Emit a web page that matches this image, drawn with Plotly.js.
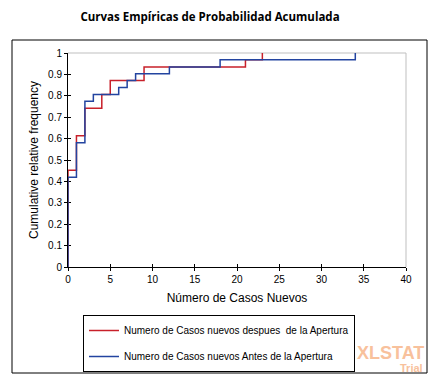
<!DOCTYPE html>
<html>
<head>
<meta charset="utf-8">
<script src="https://cdn.plot.ly/plotly-3.0.1.min.js"></script>
<style>html,body{margin:0;padding:0;background:#fff;}</style>
</head>
<body>
<div id="chart" style="width:435px;height:380px;"></div>
<script>
// Empirical cumulative distribution, "despues de la Apertura"
const despuesX = [0, 0, 1, 2, 4, 5, 9, 21, 23];
const despuesY = [0, 0.452, 0.613, 0.742, 0.806, 0.871, 0.935, 0.968, 1];
// Empirical cumulative distribution, "Antes de la Apertura"
const antesX = [0, 0, 1, 2, 3, 6, 7, 8, 12, 18, 34];
const antesY = [0, 0.419, 0.581, 0.774, 0.806, 0.839, 0.871, 0.903, 0.935, 0.968, 1];

const seriesNames = [
  'Numero de Casos nuevos despues  de la Apertura',
  'Numero de Casos nuevos Antes de la Apertura'
];
const chartTitle = 'Curvas Empíricas de Probabilidad Acumulada';
const xTitle = 'Número de Casos Nuevos';
const yTitle = 'Cumulative relative frequency';

const FONT = 'Liberation Sans, Arial, sans-serif';

const traces = [
  {x: despuesX, y: despuesY, type: 'scatter', mode: 'lines', line: {shape: 'hv', color: '#c8202a', width: 1.5},
   name: seriesNames[0], legendgroup: 'a'},
  {x: antesX, y: antesY, type: 'scatter', mode: 'lines', line: {shape: 'hv', color: '#2344a0', width: 1.5},
   name: seriesNames[1], legendgroup: 'b'},
  {x: [], y: [], xaxis: 'x2', yaxis: 'y2', type: 'scatter', mode: 'lines', showlegend: false, hoverinfo: 'skip'}
];

const L = 68, R = 406, T = 53, B = 267;
const W = R - L, H = B - T;
const px = v => (v - L) / W;
const py = v => (B - v) / H;

const layout = {
  width: 435, height: 380,
  margin: {l: L, r: 435 - R, t: T, b: 380 - B, pad: 0, autoexpand: false},
  paper_bgcolor: '#ffffff', plot_bgcolor: '#ffffff',
  font: {family: FONT, size: 10, color: '#000'},
  showlegend: true,
  title: {text: '<b>' + chartTitle + '</b>', font: {family: 'Open Sans, sans-serif', size: 11.5, color: '#000'},
          x: 210 / 435, xref: 'container', xanchor: 'center', y: 1 - 17/380, yanchor: 'middle'},
  xaxis: {range: [0, 40], dtick: 5, tick0: 0, ticks: 'outside', ticklen: 3, tickcolor: '#000', tickwidth: 1,
          showline: true, linecolor: '#000', linewidth: 1, showgrid: false, zeroline: false, layer: 'below traces',
          automargin: false,
          tickfont: {family: FONT, size: 10, color: '#000'},
          title: {text: xTitle, font: {family: FONT, size: 12, color: '#000'}, standoff: 9}},
  yaxis: {range: [0, 1], dtick: 0.1, tick0: 0, ticks: 'outside', ticklen: 3, tickcolor: '#000', tickwidth: 1,
          showline: true, linecolor: '#000', linewidth: 1, showgrid: false, zeroline: false, layer: 'below traces',
          automargin: false,
          tickfont: {family: FONT, size: 10, color: '#000'},
          title: {text: yTitle, font: {family: FONT, size: 12, color: '#000'}, standoff: 6}},
  xaxis2: {overlaying: 'x', range: [0, 40], dtick: 5, tick0: 0, ticks: 'inside', ticklen: 3, tickcolor: '#000',
           showticklabels: false, showline: false, showgrid: false, zeroline: false, layer: 'below traces'},
  yaxis2: {overlaying: 'y', range: [0, 1], dtick: 0.1, tick0: 0, ticks: 'inside', ticklen: 3, tickcolor: '#000',
           showticklabels: false, showline: false, showgrid: false, zeroline: false, layer: 'below traces'},
  legend: {x: px(83), y: py(315), xanchor: 'left', yanchor: 'top', bgcolor: '#fff',
           bordercolor: '#000', borderwidth: 1, traceorder: 'grouped', tracegroupgap: 7,
           font: {family: FONT, size: 10, color: '#000'}},
  shapes: [
    {type: 'rect', xref: 'paper', yref: 'paper', x0: px(12), x1: px(427), y0: py(373), y1: py(40),
     line: {color: '#000', width: 1}, fillcolor: 'rgba(0,0,0,0)', layer: 'below'},
    {type: 'line', xref: 'paper', yref: 'paper', x0: 0, x1: 1, y0: 1, y1: 1, line: {color: '#bfbfbf', width: 1}, layer: 'below'},
    {type: 'line', xref: 'paper', yref: 'paper', x0: 1, x1: 1, y0: 0, y1: 1, line: {color: '#bfbfbf', width: 1}, layer: 'below'}
  ],
  annotations: [
    {text: '<b>XLSTAT</b>', xref: 'paper', yref: 'paper', x: px(426), y: py(353), xanchor: 'right', yanchor: 'middle',
     showarrow: false, font: {family: FONT, size: 18, color: '#f8c19c'}},
    {text: '<b>Trial</b>', xref: 'paper', yref: 'paper', x: px(425), y: py(368), xanchor: 'right', yanchor: 'middle',
     showarrow: false, font: {family: FONT, size: 11, color: '#f8c19c'}}
  ]
};

Plotly.newPlot('chart', traces, layout, {staticPlot: true, displayModeBar: false});
</script>
</body>
</html>
